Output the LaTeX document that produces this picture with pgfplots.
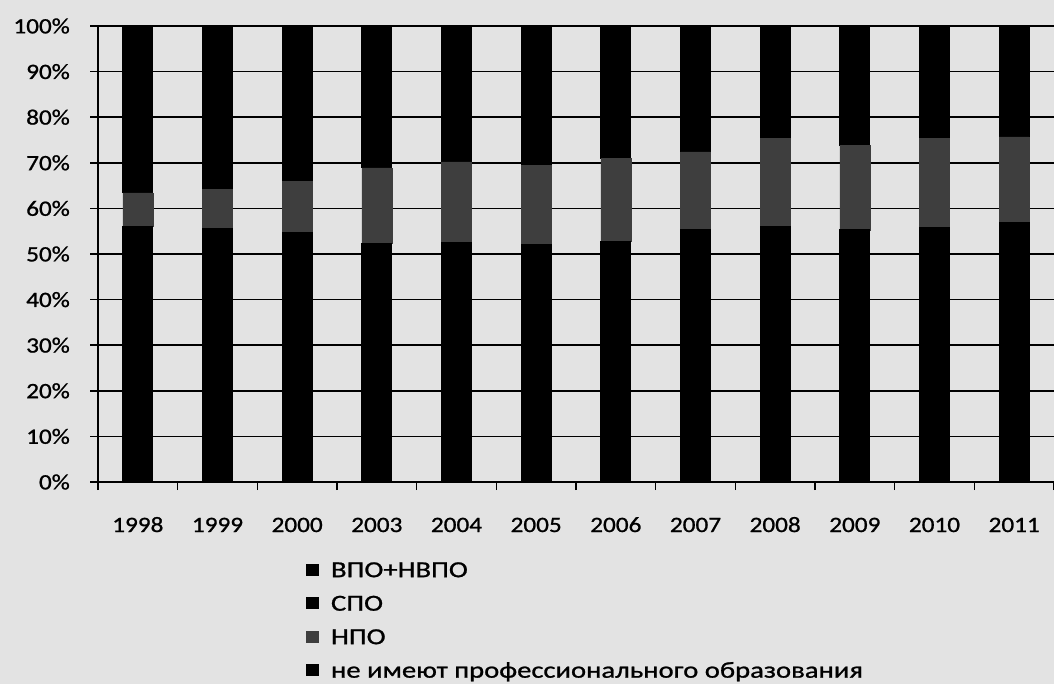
\documentclass[border=0pt]{standalone}
\usepackage{fontspec}
\setmainfont[FakeStretch=1.15, FakeBold=1]{Carlito}
\newfontfamily\legfont[FakeStretch=1.25, FakeBold=1]{Carlito}
\usepackage{pgfplots}
\usepackage{pgfplotstable}
\pgfplotsset{compat=1.18}
\usetikzlibrary{backgrounds}

\definecolor{bg}{RGB}{227,227,227}
\definecolor{npo}{RGB}{62,62,62}

% shares in %, stacked bottom to top
\pgfplotstableread{
x  vpo  spo  npo  ne
0  22.0 34.1  7.3 36.6
1  22.5 33.2  8.5 35.8
2  23.0 31.8 11.2 34.0
3  23.5 28.9 16.5 31.1
4  24.0 28.6 17.6 29.8
5  25.0 27.0 17.5 30.5
6  25.5 27.3 18.2 29.0
7  27.0 28.3 17.1 27.6
8  28.0 28.1 19.3 24.6
9  28.5 26.8 18.6 26.1
10 29.0 26.9 19.5 24.6
11 29.5 27.3 18.9 24.3
}\shares

\begin{document}
\begin{tikzpicture}
\begin{axis}[
    name=ax,
    scale only axis,
    width=956bp, height=456bp,
    ybar stacked,
    bar width=30bp,
    xmin=-0.5, xmax=11.5,
    ymin=0, ymax=100,
    axis x line*=bottom,
    axis y line*=left,
    axis line style={line width=2bp},
    ytick={0,10,...,100},
    yticklabel={\pgfmathprintnumber{\tick}\%},
    /pgf/number format/assume math mode=true,
    ymajorgrids,
    grid style={black, line width=1.6bp},
    tick align=outside,
    major tick length=8bp,
    tick style={black, line width=1.6bp},
    xtick={-0.5,0.5,...,11.5},
    xticklabels={},
    extra x ticks={0,...,11},
    extra x tick labels={1998,1999,2000,2003,2004,2005,2006,2007,2008,2009,2010,2011},
    extra x tick style={major tick length=0pt, grid=none},
    xticklabel style={anchor=base, inner sep=0pt, yshift=-50bp},
    yticklabel style={anchor=east, inner sep=0pt, xshift=-20bp},
    every tick label/.append style={font=\fontsize{22}{26}\selectfont},
    legend style={
        at={(0.2176,-0.178)}, anchor=north west,
        draw=none, fill=none, inner sep=0pt, outer sep=0pt,
        font=\legfont\fontsize{23}{27}\selectfont,
        nodes={inner sep=0pt, text height=14bp, text depth=4bp, anchor=base west},
        row sep=15.5bp, column sep=12bp,
        legend cell align=left,
    },
    legend image code/.code={\fill[#1] (0bp,2bp) rectangle (12bp,13bp);},
]
\addplot[fill=black, draw=black, line width=1bp] table[x=x, y=vpo] {\shares};
\addlegendentry{ВПО+НВПО}
\addplot[fill=black, draw=black, line width=1bp] table[x=x, y=spo] {\shares};
\addlegendentry{СПО}
\addplot[fill=npo, draw=npo, line width=0.6bp] table[x=x, y=npo] {\shares};
\addlegendentry{НПО}
\addplot[fill=black, draw=black, line width=1bp] table[x=x, y=ne] {\shares};
\addlegendentry{не имеют профессионального образования}
\end{axis}
\pgfresetboundingbox
\path[use as bounding box] ([shift={(-98bp,-202bp)}]ax.south west) rectangle ([shift={(0bp,26bp)}]ax.north east);
\begin{scope}[on background layer]
\fill[bg] ([shift={(-98bp,-202bp)}]ax.south west) rectangle ([shift={(0bp,26bp)}]ax.north east);
\end{scope}
\end{tikzpicture}
\end{document}
